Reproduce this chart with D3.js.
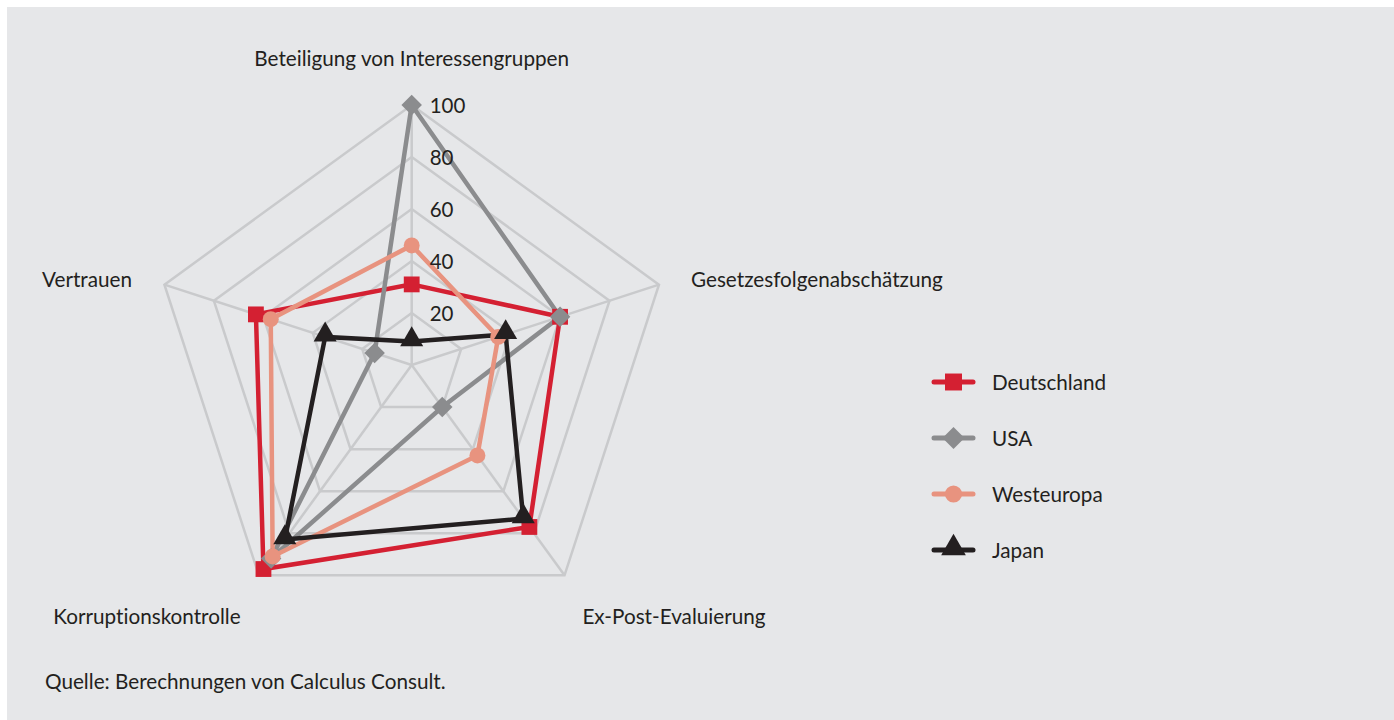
<!DOCTYPE html>
<html><head><meta charset="utf-8">
<script src="https://cdn.jsdelivr.net/npm/d3@7/dist/d3.min.js"></script>
<style>
html,body{margin:0;padding:0;background:#fff;}
svg{display:block;}
text{font-family:Lato,"Open Sans",sans-serif;fill:#231f20;font-variant-ligatures:none;font-feature-settings:"liga" 0,"clig" 0;}
</style></head><body>
<svg id="chart" width="1394" height="720"></svg>
<script>
const axesLabels = ["Beteiligung von Interessengruppen","Gesetzesfolgenabschätzung","Ex-Post-Evaluierung","Korruptionskontrolle","Vertrauen"];
const tickValues = [20,40,60,80,100];
const seriesNames = ["Deutschland","USA","Westeuropa","Japan"];
const deutschland = [31,60,77,97,63];
const usa = [100,60,20,92,15];
const westeuropa = [46,35,43,91,57];
const japan = [9,38,73,83,35];
const sourceText = "Quelle: Berechnungen von Calculus Consult.";

const seriesData = [deutschland, usa, westeuropa, japan];
const colors = ["#d42032","#8b8c8e","#e8937f","#231f20"];
const symbols = [d3.symbolSquare, d3.symbolSquare, d3.symbolCircle, d3.symbolTriangle];
const symRot = [0, 45, 0, 0];
const symSizes = [250, 210, 200, 230];

const svg = d3.select("#chart");
svg.append("rect").attr("x",7).attr("y",7).attr("width",1394-7).attr("height",720-7).attr("fill","#e6e7e9");

const cx = 411.7, cy = 365, R = 260;
const r = d3.scaleLinear().domain([0,100]).range([0,R]);
const n = axesLabels.length;
const ang = i => -Math.PI/2 + i*2*Math.PI/n;
const pt = (i,v) => [cx + r(v)*Math.cos(ang(i)), cy + r(v)*Math.sin(ang(i))];

const grid = svg.append("g");
tickValues.forEach(t => {
  grid.append("polygon")
    .attr("points", d3.range(n).map(i => pt(i,t).join(",")).join(" "))
    .attr("fill","none").attr("stroke","#c9cacc").attr("stroke-width",2.5);
});
d3.range(n).forEach(i => {
  const p = pt(i,100);
  grid.append("line").attr("x1",cx).attr("y1",cy).attr("x2",p[0]).attr("y2",p[1])
    .attr("stroke","#c9cacc").attr("stroke-width",2.5);
});

const line = d3.line();
const g = svg.append("g");
seriesData.forEach((vals,s) => {
  const pts = vals.map((v,i) => pt(i,v));
  g.append("path").attr("d", line(pts) + "Z")
    .attr("fill","none").attr("stroke",colors[s]).attr("stroke-width",4.5).attr("stroke-linejoin","miter");
});
seriesData.forEach((vals,s) => {
  vals.forEach((v,i) => {
    const p = pt(i,v);
    g.append("path").attr("d", d3.symbol().type(symbols[s]).size(symSizes[s])())
      .attr("transform",`translate(${p[0]},${p[1] + (s===3?-2:0)}) rotate(${symRot[s]})`)
      .attr("fill",colors[s]);
  });
});

// tick labels
tickValues.forEach(t => {
  svg.append("text").attr("x", cx + 18).attr("y", cy - r(t))
    .attr("dominant-baseline","central").attr("font-size",20.5).text(t);
});

// axis labels
const labelPos = [
  {x:411.7, y:58, a:"middle"},
  {x:691, y:279, a:"start"},
  {x:674, y:616, a:"middle"},
  {x:147, y:616, a:"middle"},
  {x:132, y:279, a:"end"}
];
const FS = 20.7;
axesLabels.forEach((l,i) => {
  svg.append("text").attr("x",labelPos[i].x).attr("y",labelPos[i].y)
    .attr("text-anchor",labelPos[i].a).attr("dominant-baseline","central")
    .attr("font-size",FS).text(l);
});

// legend
const leg = svg.append("g");
const legY = d3.scalePoint().domain(seriesNames).range([382,550]);
seriesNames.forEach((name,s) => {
  const y = legY(name);
  leg.append("line").attr("x1",934).attr("x2",973).attr("y1",y).attr("y2",y)
    .attr("stroke",colors[s]).attr("stroke-width",5).attr("stroke-linecap","round");
  leg.append("path").attr("d", d3.symbol().type(symbols[s]).size(symSizes[s]*1.15)())
    .attr("transform",`translate(953.5,${y + (s===3?-2:0)}) rotate(${symRot[s]})`).attr("fill",colors[s]);
  leg.append("text").attr("x",992).attr("y",y).attr("dominant-baseline","central")
    .attr("font-size",FS).text(name);
});

svg.append("text").attr("x",45).attr("y",681).attr("dominant-baseline","central")
  .attr("font-size",FS).text(sourceText);
</script>
</body></html>
